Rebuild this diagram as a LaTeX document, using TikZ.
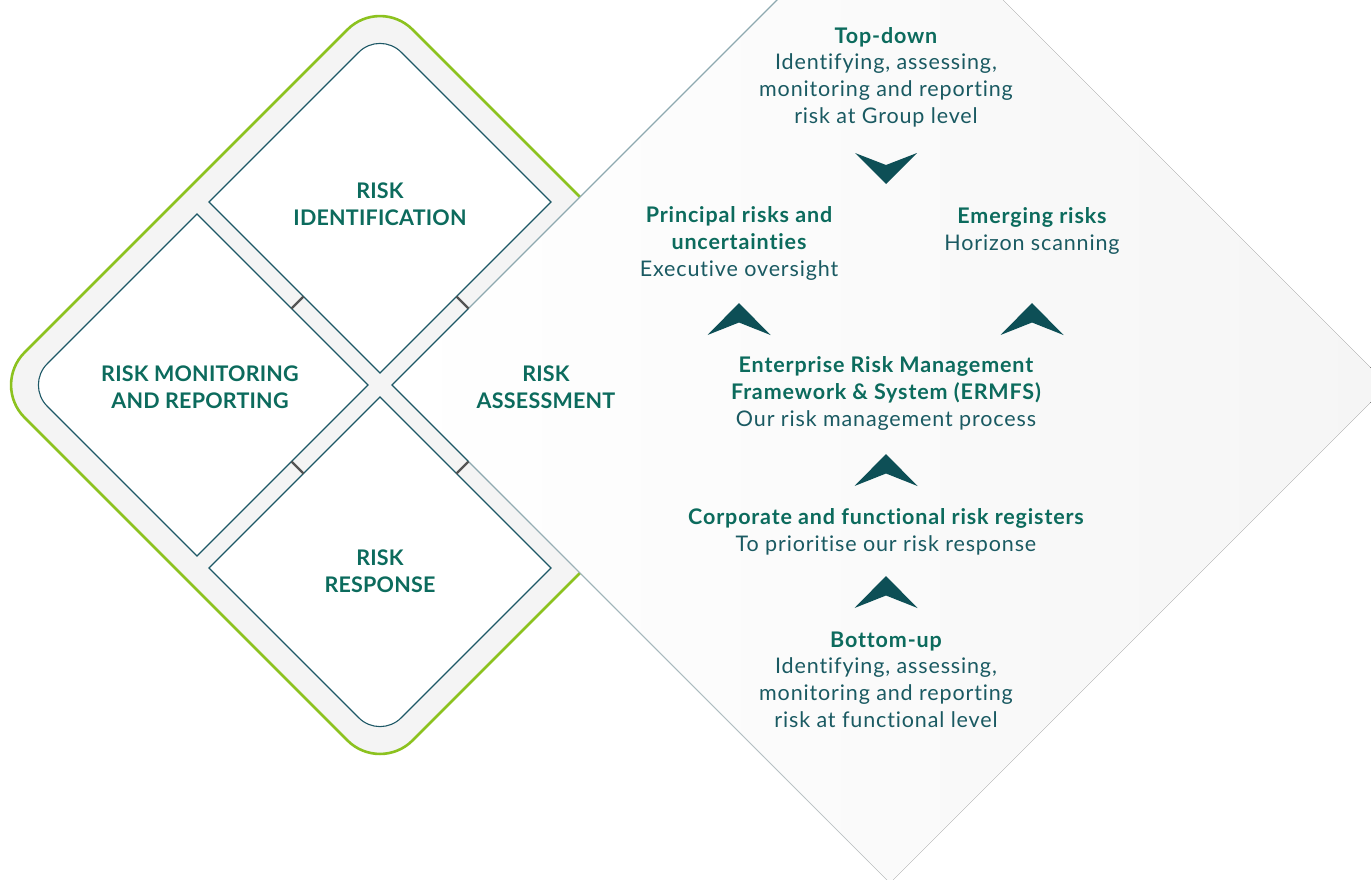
\documentclass[tikz,border=0pt]{standalone}
\usepackage{fontspec}
\setmainfont{Lato}[LetterSpace=4, Ligatures={NoCommon}]
\newfontfamily\lblfont{Lato}[LetterSpace=1, Ligatures={NoCommon}]
\usetikzlibrary{calc}

\definecolor{ringgreen}{HTML}{8CC21F}
\definecolor{channel}{HTML}{F4F4F4}
\definecolor{cellline}{HTML}{1D5866}
\definecolor{edgeblue}{HTML}{8EA9B0}
\definecolor{tickgrey}{HTML}{545454}
\definecolor{headgreen}{HTML}{0C6B5D}
\definecolor{bodyteal}{HTML}{1A5A62}
\definecolor{chevteal}{HTML}{0D4F56}
\definecolor{panelgrey}{HTML}{F5F5F5}
\definecolor{panelmid}{HTML}{FAFAFA}

\newcommand\hdtext[1]{{\color{headgreen}\bfseries #1}}

\tikzset{
  ring/.style={fill=channel, draw=ringgreen, line width=2.6pt, rounded corners=46},
  cell/.style={fill=white, draw=cellline, line width=1.1pt, line join=miter},
  tickmark/.style={draw=tickgrey, line width=2.2pt},
  paneledge/.style={draw=edgeblue, line width=1.1pt},
  lbl/.style={anchor=base, align=center, text=headgreen,
    font=\fontsize{21.5}{26.8}\selectfont\lblfont\bfseries, inner sep=0pt},
  body/.style={anchor=base, align=center, text=bodyteal,
    font=\fontsize{21.5}{26.6}\selectfont, inner sep=0pt},
  chevup/.pic={\fill[chevteal] (0,0) -- (31.5,32) -- (0,19.5) -- (-31.5,32) -- cycle;},
  chevdown/.pic={\fill[chevteal] (0,0) -- (31,-31) -- (0,-19) -- (-31,-31) -- cycle;}
}

\begin{document}
\begin{tikzpicture}[x=1pt, y=-1pt]
\useasboundingbox (0,0) rectangle (1371,879);

% outer rounded frame with the green rim
\draw[ring] (186,191) -- (380,-3) -- (768,385) -- (380,773) -- (-8,385) -- cycle;

% large assessment panel
\coordinate (pL) at (392,385);
\coordinate (pT) at (890,-113);
\coordinate (pR) at (1388,385);
\coordinate (pB) at (890,883);
\fill[left color=white, right color=panelgrey, middle color=panelmid] (pL) -- (pT) -- (pR) -- (pB) -- cycle;

% panel edge: upper part, lower part fading out
\coordinate (tkTRb) at (468.5,308.5);
\coordinate (tkBRb) at (468.5,461.5);
\draw[paneledge] (tkTRb) -- (pT);
\foreach \i in {0,...,19}{
  \pgfmathsetmacro\fa{\i/20}
  \pgfmathsetmacro\fb{(\i+1)/20}
  \pgfmathsetmacro\op{1-0.95*\i/19}
  \draw[paneledge, draw opacity=\op] ($(tkBRb)!\fa!(pB)$) -- ($(tkBRb)!\fb!(pB)$);
}
\draw[draw=cellline, line width=1.1pt] (tkTRb) -- (pL) -- (tkBRb);

% top cell
\coordinate (tT) at (380,31);
\coordinate (tL) at (209,202);
\coordinate (tB) at (380,373);
\coordinate (tR) at (551,202);
\draw[cell] ($(tT)!30pt!(tR)$) -- (tR) -- (tB) -- (tL) -- ($(tT)!30pt!(tL)$)
  .. controls ($(tT)!13.4pt!(tL)$) and ($(tT)!13.4pt!(tR)$) .. cycle;

% left cell
\coordinate (lL) at (26,385);
\coordinate (lT) at (197,214);
\coordinate (lR) at (368,385);
\coordinate (lB) at (197,556);
\draw[cell] ($(lL)!30pt!(lT)$) -- (lT) -- (lR) -- (lB) -- ($(lL)!30pt!(lB)$)
  .. controls ($(lL)!13.4pt!(lB)$) and ($(lL)!13.4pt!(lT)$) .. cycle;

% bottom cell
\coordinate (bT) at (380,397);
\coordinate (bL) at (209,568);
\coordinate (bB) at (380,739);
\coordinate (bR) at (551,568);
\draw[cell] ($(bB)!30pt!(bL)$) -- (bL) -- (bT) -- (bR) -- ($(bB)!30pt!(bR)$)
  .. controls ($(bB)!13.4pt!(bR)$) and ($(bB)!13.4pt!(bL)$) .. cycle;

% ticks across the channels
\draw[tickmark] (291.5,308.5) -- (303.5,296.5);
\draw[tickmark] (456.5,296.5) -- (tkTRb);
\draw[tickmark] (291.5,461.5) -- (303.5,473.5);
\draw[tickmark] (456.5,473.5) -- (tkBRb);

% quadrant labels (anchored on the baseline of their last line)
\node[lbl] (ident) at (380,225) {RISK\\IDENTIFICATION};
\node[lbl] (monit) at (200,408) {RISK MONITORING\\AND REPORTING};
\node[lbl] (assess) at (546,408) {RISK\\ASSESSMENT};
\node[lbl] (resp) at (380,592) {RISK\\RESPONSE};

% process texts
\node[body] (topdown) at (886,123) {\hdtext{Top-down}\\Identifying, assessing,\\monitoring and reporting\\risk at Group level};
\node[body] (principal) at (739,276) {\hdtext{Principal risks and}\\\hdtext{uncertainties}\\Executive oversight};
\node[body] (emerging) at (1032,250) {\hdtext{Emerging risks}\\Horizon scanning};
\node[body] (ermfs) at (886,426) {\hdtext{Enterprise Risk Management}\\\hdtext{Framework \& System (ERMFS)}\\Our risk management process};
\node[body] (registers) at (886,551) {\hdtext{Corporate and functional risk registers}\\To prioritise our risk response};
\node[body] (bottomup) at (886,727) {\hdtext{Bottom-up}\\Identifying, assessing,\\monitoring and reporting\\risk at functional level};

% chevrons
\pic at (886,184) {chevdown};
\pic at (739,303) {chevup};
\pic at (1032,303) {chevup};
\pic at (886,454) {chevup};
\pic at (886,576) {chevup};
\end{tikzpicture}
\end{document}
